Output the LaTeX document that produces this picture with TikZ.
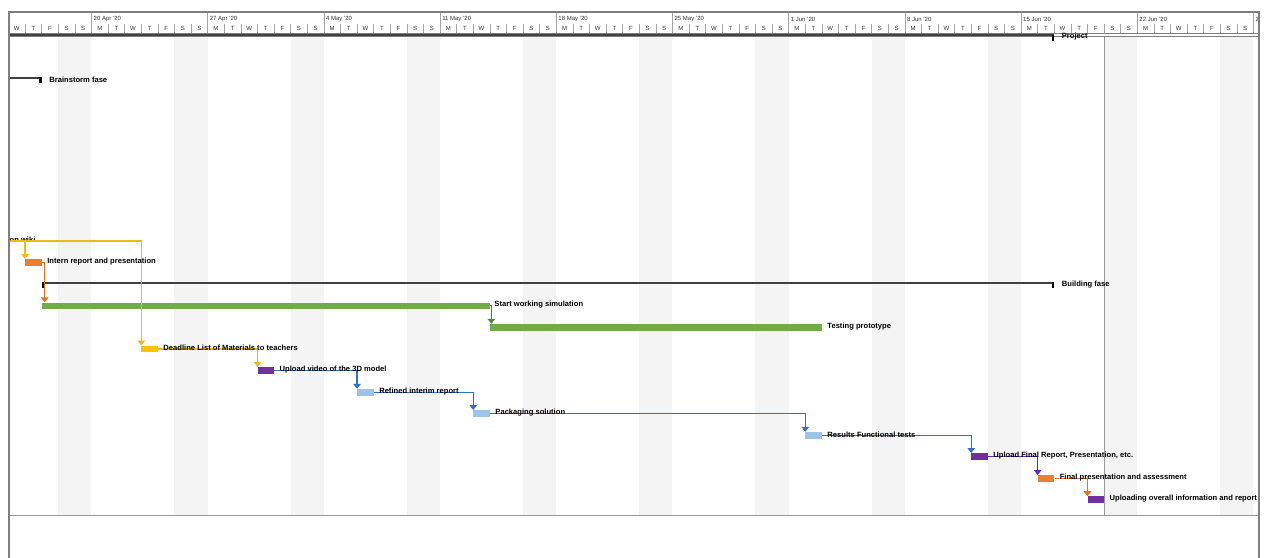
\documentclass[tikz,border=0pt]{standalone}
\usepackage{fontspec}
\setmainfont{Liberation Sans}
\usetikzlibrary{positioning,arrows.meta}
\definecolor{gridgrey}{HTML}{7F7F7F}
\definecolor{wkendgrey}{HTML}{F4F4F4}
\definecolor{sumgrey}{HTML}{404040}
\definecolor{barorange}{HTML}{ED7D31}
\definecolor{bargreen}{HTML}{70AD47}
\definecolor{baryellow}{HTML}{FFC000}
\definecolor{barpurple}{HTML}{7030A0}
\definecolor{barblue}{HTML}{9DC3E6}
\definecolor{linkyellow}{HTML}{F0B915}
\definecolor{linkblue}{HTML}{2F6FD6}
\definecolor{linkgreen}{HTML}{4E8A2C}
\definecolor{linkpurple}{HTML}{6226C8}
\definecolor{linkorange}{HTML}{E8701E}

\begin{document}
\begin{tikzpicture}[x=16.6pt, y=-1pt,
	taskbar/.style={draw=none, inner sep=0pt, minimum height=6.5pt, minimum width=16.6pt, anchor=west},
	tasklabel/.style={font=\bfseries\fontsize{7.6}{8}\selectfont, inner sep=0pt, anchor=west},
	sumline/.style={draw=sumgrey, line width=2pt},
	link/.style={line width=1.4pt, -{Triangle[width=7.5pt,length=5pt]}},
	dayletter/.style={font=\fontsize{6}{7}\selectfont, text=black!80, inner sep=0pt},
	weeklabel/.style={font=\fontsize{6}{7}\selectfont, text=black!80, inner sep=0pt, anchor=west},
	daytick/.style={draw=gridgrey!70, line width=0.6pt}]
	\useasboundingbox (-0.512,0) rectangle (76.36,558);
	
	\begin{scope}
	\clip (0.03,12) rectangle (75.33,558);
	% weekends
	\foreach \w in {0,...,10}
		\fill[wkendgrey] ({3+7*\w},36) rectangle ({5+7*\w},515);
	\draw[gridgrey!80, line width=0.8pt] (66,36) -- (66,515);
	\draw[gridgrey!80, line width=0.8pt] (0,515) -- (76,515);
	
	% timescale
	\foreach \w in {0,...,10}{
		\foreach \l [count=\i from 0] in {W,T,F,S,S,M,T}{
			\pgfmathtruncatemacro{\d}{7*\w+\i}
			\ifnum\d<75 \node[dayletter] at ({\d+0.5},28) {\l};\fi
		}
	}
	\foreach \d in {1,...,75}
		\draw[daytick] (\d,23.5) -- (\d,32.5);
	\foreach \w in {0,...,10}
		\draw[daytick] ({5+7*\w},13) -- ({5+7*\w},32.5);
	\foreach \t [count=\w from 0] in {20 Apr '20,27 Apr '20,4 May '20,11 May '20,18 May '20,25 May '20,1 Jun '20,8 Jun '20,15 Jun '20,22 Jun '20,2}
		\node[weeklabel] at ({5+7*\w+0.12},19.5) {\t};
	\draw[gridgrey, line width=1pt] (0,33.6) -- (76,33.6);
	\draw[gridgrey, line width=1pt] (0,36) -- (76,36);
	
	% summary tasks
	\draw[sumline] (-1,35) -- (63,35);
	\fill[black] (62.85,35) rectangle (63,41);
	\node[tasklabel] (project) at (63.45,37) {Project};
	\draw[sumline] (-1,78) -- (2,78);
	\fill[black] (1.85,77) rectangle (2,83);
	\node[tasklabel] (brainstorm) at (2.45,79.5) {Brainstorm fase};
	\draw[sumline] (2,283.5) -- (63,283.5);
	\fill[black] (2,282.5) rectangle (2.15,288.5);
	\fill[black] (62.85,282.5) rectangle (63,288.5);
	\node[tasklabel] (building) at (63.45,284.5) {Building fase};
	
	% tasks
	\coordinate (wiki) at (-0.6,241);
	\node[tasklabel] (wikilabel) at (0.06,240) {on wiki};
	\node[taskbar, fill=barorange] (intern) at (1,262.5) {};
	\node[taskbar, fill=bargreen, minimum width=27*16.6pt] (start) at (2,305.8) {};
	\node[taskbar, fill=bargreen, minimum width=20*16.6pt] (testing) at (29,327.3) {};
	\node[taskbar, fill=baryellow] (deadline) at (8,349) {};
	\node[taskbar, fill=barpurple] (video) at (15,370.5) {};
	\node[taskbar, fill=barblue] (refined) at (21,392.3) {};
	\node[taskbar, fill=barblue] (packaging) at (28,413.5) {};
	\node[taskbar, fill=barblue] (results) at (48,435.3) {};
	\node[taskbar, fill=barpurple] (upfinal) at (58,456.5) {};
	\node[taskbar, fill=barorange] (finalpres) at (62,478.5) {};
	\node[taskbar, fill=barpurple] (uploading) at (65,499.7) {};
	
	% links
	\draw[link, linkyellow] (wiki) -| (intern.north west);
	\draw[link, linkyellow] (wiki) -| (deadline.north west);
	\draw[link, linkorange] (intern.east) -| ([xshift=3pt]start.north west);
	\draw[link, linkgreen] (start.east) -| ([xshift=1.5pt]testing.north west);
	\draw[link, linkyellow] (deadline.east) -| (video.north west);
	\draw[link, linkblue] (video.east) -| (refined.north west);
	\draw[link, linkblue] (refined.east) -| (packaging.north west);
	\draw[link, linkblue] (packaging.east) -| (results.north west);
	\draw[link, linkblue] (results.east) -| (upfinal.north west);
	\draw[link, linkpurple] (upfinal.east) -| (finalpres.north west);
	\draw[link, linkorange] (finalpres.east) -| (uploading.north west);
	
	% labels
	\node[tasklabel, right=5pt of intern, yshift=1pt] (internlabel) {Intern report and presentation};
	\node[tasklabel, right=4pt of start, yshift=1pt] (startlabel) {Start working simulation};
	\node[tasklabel, right=5pt of testing, yshift=1pt] (testinglabel) {Testing prototype};
	\node[tasklabel, right=5pt of deadline, yshift=1pt] (deadlinelabel) {Deadline List of Materials to teachers};
	\node[tasklabel, right=5pt of video, yshift=1pt] (videolabel) {Upload video of the 3D model};
	\node[tasklabel, right=5pt of refined, yshift=1pt] (refinedlabel) {Refined interim report};
	\node[tasklabel, right=5pt of packaging, yshift=1pt] (packaginglabel) {Packaging solution};
	\node[tasklabel, right=5pt of results, yshift=1pt] (resultslabel) {Results Functional tests};
	\node[tasklabel, right=5pt of upfinal, yshift=1pt] (upfinallabel) {Upload Final Report, Presentation, etc.};
	\node[tasklabel, right=5pt of finalpres, yshift=1pt] (finalpreslabel) {Final presentation and assessment};
	\node[tasklabel, right=5pt of uploading, yshift=1pt] (uploadinglabel) {Uploading overall information and report};
	\end{scope}
	
	% frame
	\draw[gridgrey, line width=1.6pt] (0.03,558) -- (0.03,12) -- (75.33,12) -- (75.33,558);
\end{tikzpicture}
\end{document}
